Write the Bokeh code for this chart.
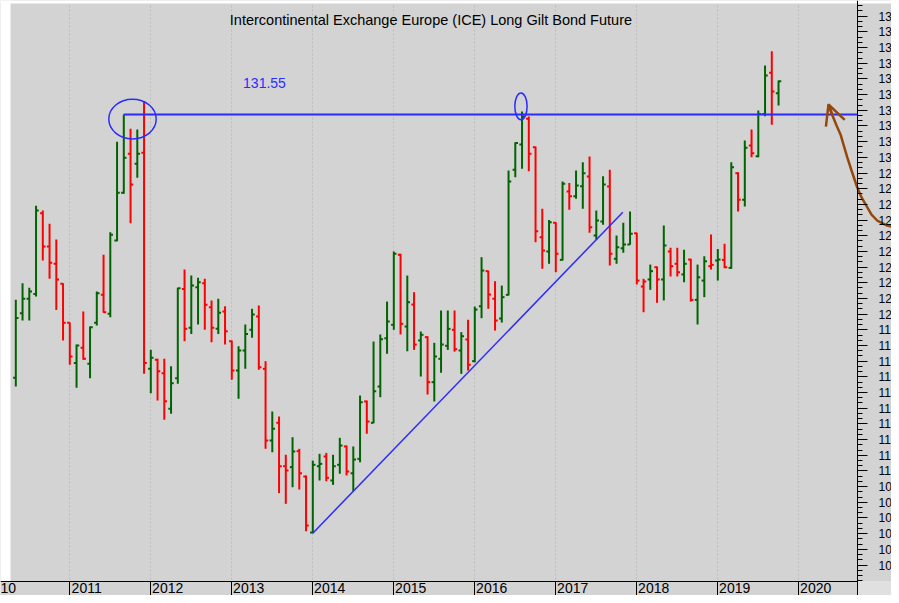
from bokeh.plotting import figure
from bokeh.models import Range1d, FixedTicker, ColumnDataSource, Label, Arrow, OpenHead
from bokeh.embed import file_html
from bokeh.resources import INLINE

# ---------------- data ----------------
# month index: 0 = Jan 2010
month_index = list(range(4, 118))
open_ = [115.94, 120.06, 120.98, 121.29, 126.43, 124.31, 123.21, 121.93, 119.45, 116.89,
         117.85, 116.83, 119.45, 121.23, 120.02, 124.69, 127.74, 130.22, 129.59, 130.29,
         116.51, 117.09, 116.23, 113.96, 115.91, 121.61, 119.13, 121.72, 121.97, 120.44,
         119.06, 120.17, 118.27, 116.40, 117.68, 119.00, 119.85, 116.51, 111.94, 113.07,
         110.30, 110.24, 111.26, 109.64, 106.07, 110.30, 110.92, 109.39, 110.39, 111.56,
         109.85, 110.77, 114.43, 113.07, 115.38, 118.46, 119.32, 123.78, 119.21, 120.61,
         118.32, 118.53, 115.66, 117.15, 117.98, 119.00, 117.68, 118.38, 117.00, 120.50,
         122.74, 120.98, 119.72, 121.23, 129.20, 130.82, 132.46, 130.64, 124.90, 123.99,
         125.82, 123.46, 127.82, 127.52, 128.16, 128.78, 125.01, 125.91, 128.14, 123.53,
         124.20, 124.44, 125.16, 121.76, 122.21, 122.99, 122.21, 123.99, 123.21, 122.53,
         123.48, 120.91, 122.14, 123.06, 123.42, 123.46, 122.95, 128.99, 127.29, 130.75,
         130.07, 132.77, 135.39, 134.09]
high = [120.91, 121.97, 121.68, 126.91, 126.61, 125.76, 124.76, 121.97, 119.47, 118.06,
        120.17, 119.21, 121.44, 123.78, 125.22, 130.99, 132.73, 131.82, 131.77, 133.58,
        117.72, 117.15, 117.15, 116.68, 121.68, 122.84, 122.46, 122.32, 122.25, 120.87,
        120.98, 120.50, 118.32, 117.95, 119.34, 120.34, 120.55, 117.00, 113.79, 113.47,
        111.03, 112.15, 111.41, 109.71, 110.66, 111.09, 111.15, 111.03, 112.11, 111.62,
        111.56, 114.81, 114.49, 118.25, 118.70, 120.80, 123.99, 123.85, 122.46, 121.40,
        118.89, 118.59, 118.17, 120.23, 120.23, 120.23, 118.85, 119.64, 120.48, 123.63,
        122.78, 122.10, 121.82, 129.16, 130.96, 132.92, 132.60, 130.69, 126.72, 126.01,
        125.86, 128.46, 128.37, 129.16, 129.69, 130.05, 126.61, 128.80, 129.20, 125.01,
        125.82, 126.54, 125.19, 122.25, 123.16, 123.04, 125.65, 124.23, 124.23, 124.10,
        123.53, 123.16, 123.69, 125.08, 124.16, 124.48, 129.69, 129.05, 131.07, 131.77,
        132.98, 135.85, 136.77, 134.90]
low = [115.38, 119.59, 119.59, 121.12, 123.42, 122.25, 120.27, 118.32, 116.77, 115.30,
       117.09, 115.91, 119.27, 120.08, 119.80, 124.65, 127.67, 125.80, 128.69, 116.19,
       114.96, 114.49, 113.26, 113.64, 115.56, 118.27, 118.74, 119.34, 119.00, 118.21,
       118.74, 118.06, 115.81, 114.60, 116.51, 118.49, 116.45, 111.41, 111.19, 108.58,
       107.90, 108.96, 108.81, 106.15, 106.03, 109.39, 109.34, 109.11, 109.82, 109.71,
       108.71, 110.55, 112.37, 113.04, 114.70, 117.47, 119.00, 118.70, 117.63, 117.72,
       116.02, 114.87, 114.43, 116.26, 117.72, 117.61, 116.19, 116.40, 116.93, 119.74,
       120.34, 118.95, 119.46, 121.19, 128.73, 129.27, 129.11, 124.59, 122.89, 123.21,
       122.67, 123.42, 126.65, 127.35, 126.72, 125.19, 124.74, 125.70, 123.10, 123.21,
       123.91, 124.42, 121.89, 120.12, 121.55, 120.72, 120.87, 122.40, 122.40, 122.03,
       120.80, 119.34, 121.08, 122.84, 122.14, 122.93, 122.89, 126.54, 126.86, 130.01,
       130.01, 132.62, 132.07, 133.30]
close = [119.76, 120.98, 121.44, 126.61, 124.31, 123.27, 122.21, 119.45, 117.30, 118.00,
         117.15, 119.16, 121.33, 120.12, 125.06, 127.74, 129.97, 128.27, 130.22, 116.89,
         117.21, 116.36, 114.45, 115.59, 121.65, 119.06, 121.82, 122.03, 120.59, 119.13,
         120.08, 118.91, 116.40, 117.68, 118.74, 119.97, 116.61, 111.94, 112.69, 110.30,
         110.03, 111.24, 109.85, 106.52, 110.39, 110.45, 109.56, 110.30, 111.62, 109.96,
         110.73, 114.38, 113.15, 115.08, 118.40, 119.53, 123.85, 119.38, 120.76, 118.06,
         118.68, 115.66, 117.30, 118.06, 119.06, 117.76, 118.59, 116.77, 120.29, 122.78,
         121.25, 119.59, 121.08, 128.46, 130.92, 132.60, 130.22, 125.29, 124.06, 125.86,
         123.85, 128.31, 127.52, 128.20, 128.99, 125.54, 125.97, 128.27, 123.85, 124.27,
         124.44, 125.12, 122.14, 122.08, 122.74, 122.21, 124.38, 123.06, 122.67, 123.21,
         120.91, 122.35, 123.37, 123.14, 123.48, 122.99, 129.37, 127.29, 130.61, 130.26,
         132.77, 135.22, 134.20, 134.85]

years = list(range(2010, 2021))
year_labels = ["10"] + [str(y) for y in years[1:]]
price_ticks = list(range(104, 140))

title_text = "Intercontinental Exchange Europe (ICE) Long Gilt Bond Future"
level_text = "131.55"
level_value = 132.73          # drawn level (from the picture)
level_start_month = 20        # Sep 2011 high
trend_x = [48, 93.93]
trend_y = [106.03, 126.50]
ellipse_x = [21.29, 78.84]
ellipse_y = [132.44, 133.25]
ellipse_w = [7.02, 1.82]
ellipse_h = [2.53, 1.72]
arrow_x = [124.40, 124.99, 125.59, 126.18, 127.17, 127.81, 128.65, 129.30,
           130.13, 130.77, 131.61, 133.10, 134.92]
arrow_y = [133.37, 132.67, 132.03, 131.46, 130.01, 129.16, 128.09, 127.44,
           126.82, 126.35, 125.97, 125.65, 125.46]

# ---------------- layout (data units) ----------------
X0, X1 = 1.7333, 133.7333      # visible month range
Y0, Y1 = 102.055, 140.0013     # visible price range
AXIS_X = 128.696               # price axis position
AXIS_Y = 102.947               # time axis position
LEFT_EDGE = 3.215
TOP_EDGE = 139.81

# ---------------- styles ----------------
BG = "#d3d3d3"
UP = "#006400"
DOWN = "#ff0000"
BLUE = "#2b2bff"
BROWN = "#94480c"
FONT = "Liberation Sans"

colors = []
for i, c in enumerate(close):
    ref = open_[0] if i == 0 else close[i - 1]
    colors.append(UP if c >= ref else DOWN)

src = ColumnDataSource(dict(
    x=month_index, o=open_, h=high, l=low, c=close,
    xl=[m - 0.4 for m in month_index], xr=[m + 0.4 for m in month_index],
    color=colors))

p = figure(width=891, height=595, output_backend="svg", toolbar_location=None,
           x_range=Range1d(X0, X1), y_range=Range1d(Y0, Y1),
           y_axis_location="right",
           min_border_left=0, min_border_right=0, min_border_top=0,
           min_border_bottom=0)
p.background_fill_color = BG
p.border_fill_color = BG
p.outline_line_color = None

# grid
year_starts = [(y - 2010) * 12 for y in years]
p.xgrid.ticker = FixedTicker(ticks=year_starts)
p.xgrid.grid_line_color = "#bdbdbd"
p.xgrid.grid_line_dash = "2 2"
p.xgrid.grid_line_width = 1
p.ygrid.visible = False

# white margins of the original picture
p.quad(left=[X0], right=[LEFT_EDGE], bottom=[AXIS_Y], top=[Y1],
       fill_color="white", line_color=None)
p.quad(left=[X0], right=[X1], bottom=[TOP_EDGE], top=[Y1],
       fill_color="white", line_color=None)

# x axis (time)
label_pos = [2.06] + [(y - 2010) * 12 + 2.5 for y in years[1:]]
xa = p.xaxis[0]
xa.fixed_location = AXIS_Y
xa.ticker = FixedTicker(ticks=label_pos, minor_ticks=year_starts)
xa.major_label_overrides = {pos: lab for pos, lab in zip(label_pos, year_labels)}
xa.major_tick_out = 0
xa.major_tick_in = 0
xa.minor_tick_out = 22
xa.minor_tick_in = 0
xa.minor_tick_line_color = "black"
xa.axis_line_color = "black"
xa.major_label_standoff = -21
xa.major_label_text_font = FONT
xa.major_label_text_font_size = "14px"
xa.major_label_text_color = "black"

# y axis (price, right)
ya = p.yaxis[0]
ya.fixed_location = AXIS_X
minor = [103 + k / 3 for k in range(0, 3 * 37)]
ya.ticker = FixedTicker(ticks=price_ticks, minor_ticks=minor)
ya.major_label_overrides = {t: str(t)[:2] for t in price_ticks}
ya.major_tick_out = 10
ya.major_tick_in = 0
ya.minor_tick_out = 5
ya.minor_tick_in = 0
ya.major_tick_line_color = "black"
ya.minor_tick_line_color = "black"
ya.axis_line_color = "black"
ya.major_label_standoff = 11
ya.major_label_text_font = FONT
ya.major_label_text_font_size = "12px"
ya.major_label_text_color = "black"

# OHLC bars
p.segment(x0="x", y0="l", x1="x", y1="h", line_color="color", line_width=2, source=src)
p.segment(x0="xl", y0="o", x1="x", y1="o", line_color="color", line_width=2, source=src)
p.segment(x0="x", y0="c", x1="xr", y1="c", line_color="color", line_width=2, source=src)

# annotations
p.segment(x0=[level_start_month], y0=[level_value], x1=[AXIS_X], y1=[level_value],
          line_color=BLUE, line_width=1.8)
p.line(trend_x, trend_y, line_color=BLUE, line_width=1.5)
p.ellipse(x=ellipse_x, y=ellipse_y, width=ellipse_w, height=ellipse_h,
          fill_color=None, line_color=BLUE, line_width=1.5)

p.add_layout(Label(x=65.5, y=138.76, text=title_text, text_align="center",
                   text_baseline="middle", text_font=FONT, text_font_size="14.5px",
                   text_color="black"))
p.add_layout(Label(x=40.84, y=134.77, text=level_text, text_align="center",
                   text_baseline="middle", text_font=FONT, text_font_size="14px",
                   text_color=BLUE))

p.line(arrow_x, arrow_y, line_color=BROWN, line_width=2.5)
p.add_layout(Arrow(end=OpenHead(size=20, line_color=BROWN, line_width=2.5),
                   x_start=arrow_x[1], y_start=arrow_y[1],
                   x_end=arrow_x[0], y_end=arrow_y[0],
                   line_color=BROWN, line_width=2.5))

# lighter lower-right corner (drawn above the axes)
p.quad(left=[AXIS_X + 0.07], right=[X1], bottom=[Y0], top=[AXIS_Y + 0.04],
       fill_color="#e0e0e0", line_color=None, level="overlay")

open("out.html", "w").write(file_html(p, INLINE))
